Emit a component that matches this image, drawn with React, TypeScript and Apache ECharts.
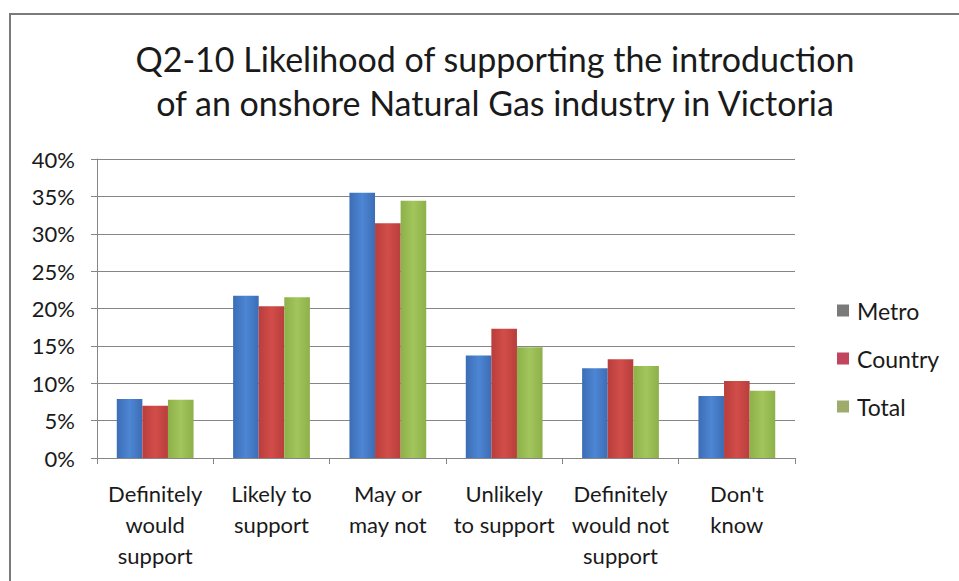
import React, { useEffect, useRef } from "react";
import * as echarts from "echarts";

const categories = [
  "Definitely\nwould\nsupport",
  "Likely to\nsupport",
  "May or\nmay not",
  "Unlikely\nto support",
  "Definitely\nwould not\nsupport",
  "Don't\nknow",
];
const metro = [7.9, 21.7, 35.5, 13.7, 12.0, 8.3];
const country = [7.0, 20.3, 31.4, 17.3, 13.2, 10.3];
const total = [7.8, 21.5, 34.4, 14.8, 12.3, 9.0];
const yTicks = [0, 5, 10, 15, 20, 25, 30, 35, 40];

const FONT = "Lato, 'Open Sans', sans-serif";

function grad(a: string, b: string) {
  return new echarts.graphic.LinearGradient(0, 0, 1, 0, [
    { offset: 0, color: a },
    { offset: 0.5, color: b },
    { offset: 1, color: a },
  ]);
}

export default function App() {
  const ref = useRef<HTMLDivElement>(null);
  useEffect(() => {
    if (!ref.current) return;
    const chart = echarts.init(ref.current, undefined, { renderer: "svg" });
    chart.setOption({
      animation: false,
      backgroundColor: "#ffffff",
      graphic: [
        {
          type: "rect",
          shape: { x: 10, y: 14, width: 1000, height: 1000 },
          style: { fill: "none", stroke: "#7a7a7a", lineWidth: 2 },
          silent: true,
        },
      ],
      title: {
        text: "Q2-10 Likelihood of supporting the introduction\nof an onshore Natural Gas industry in Victoria",
        left: 490,
        textAlign: "center",
        top: 31,
        textStyle: {
          fontFamily: FONT,
          fontSize: 34,
          fontWeight: "normal",
          color: "#1a1a1a",
          lineHeight: 44,
        },
      },
      legend: {
        orient: "vertical",
        left: 832,
        top: 294,
        itemWidth: 12,
        itemHeight: 12,
        itemGap: 25,
        icon: "rect",
        textStyle: { fontFamily: FONT, fontSize: 23, color: "#1a1a1a", padding: [0, 0, 0, 3] },
        data: [
          { name: "Metro", itemStyle: { color: "#7a7a7a" } },
          { name: "Country", itemStyle: { color: "#c2445f" } },
          { name: "Total", itemStyle: { color: "#9fab6c" } },
        ],
      },
      grid: { left: 97, top: 159, width: 698, height: 299, containLabel: false },
      xAxis: {
        type: "category",
        data: categories,
        axisLine: { lineStyle: { color: "#868686", width: 1 } },
        axisTick: { show: true, length: 6, lineStyle: { color: "#868686" } },
        axisLabel: {
          interval: 0,
          margin: 20,
          fontFamily: FONT,
          fontSize: 22,
          lineHeight: 31,
          color: "#1a1a1a",
        },
      },
      yAxis: {
        type: "value",
        min: 0,
        max: 40,
        interval: 5,
        axisLine: { show: true, lineStyle: { color: "#868686", width: 1 } },
        axisTick: { show: true, length: 6, lineStyle: { color: "#868686" } },
        splitLine: { lineStyle: { color: "#868686", width: 1 } },
        axisLabel: {
          margin: 22,
          fontFamily: FONT,
          fontSize: 22,
          color: "#1a1a1a",
          formatter: (v: number) => (yTicks.includes(v) ? v + "%" : ""),
        },
      },
      series: [
        {
          name: "Metro",
          type: "bar",
          data: metro,
          barGap: "0%",
          barCategoryGap: "34%",
          itemStyle: { color: grad("#3c6db5", "#4d86d4") },
        },
        {
          name: "Country",
          type: "bar",
          data: country,
          barGap: "0%",
          barCategoryGap: "34%",
          itemStyle: { color: grad("#b83e3c", "#d24d49") },
        },
        {
          name: "Total",
          type: "bar",
          data: total,
          barGap: "0%",
          barCategoryGap: "34%",
          itemStyle: { color: grad("#8db04a", "#a2c65c") },
        },
      ],
    });
    return () => chart.dispose();
  }, []);
  return <div ref={ref} style={{ width: 959, height: 581, position: "absolute", left: 0, top: 0 }} />;
}
